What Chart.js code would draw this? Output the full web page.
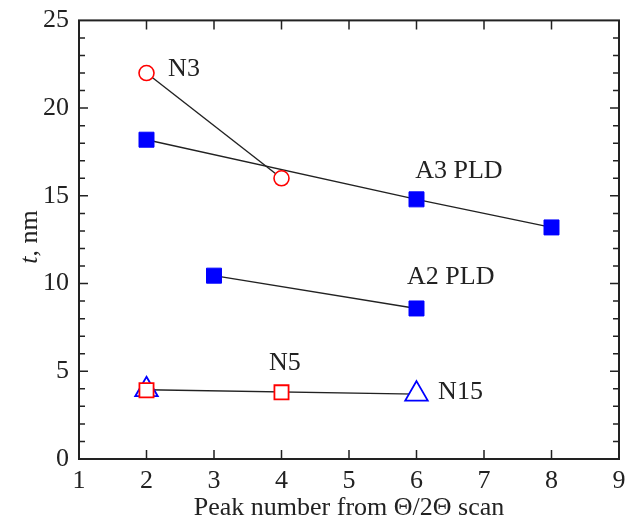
<!DOCTYPE html>
<html>
<head>
<meta charset="utf-8">
<script src="https://cdn.jsdelivr.net/npm/chart.js@4"></script>
<style>
html, body { margin: 0; padding: 0; background: #fff; }
</style>
</head>
<body>
<canvas id="chart" width="634" height="520"></canvas>
<script>
// measured film thickness t (nm) vs peak number
var n3_x = [2, 4];
var n3_t = [22.0, 16.0];
var a3_x = [2, 6, 8];
var a3_t = [18.2, 14.8, 13.2];
var a2_x = [3, 6];
var a2_t = [10.45, 8.58];
var n5_x = [2, 4];
var n5_t = [3.92, 3.8];
var n15_x = [2, 6];
var n15_t = [3.95, 3.7];

// sample labels written next to the points
var label_text = ["N3", "A3 PLD", "A2 PLD", "N5", "N15"];
var label_x = [2.32, 5.98, 5.86, 4.05, 6.32];
var label_t = [22.2, 16.4, 10.36, 5.45, 3.82];
var label_align = ["left", "left", "left", "center", "left"];

var x_title = "Peak number from \u0398/2\u0398 scan";
var ink = "#222";
var serif = "'Liberation Serif', 'Times New Roman', serif";

function pts(xs, ys) {
  return xs.map(function (x, i) { return { x: x, y: ys[i] }; });
}

var frame = {
  id: 'frame',
  afterDraw: function (chart) {
    var ctx = chart.ctx;
    var a = chart.chartArea;
    var xs = chart.scales.x;
    var ys = chart.scales.y;
    ctx.save();
    ctx.strokeStyle = ink;
    ctx.lineWidth = 2;
    ctx.strokeRect(a.left, a.top, a.right - a.left, a.bottom - a.top);

    ctx.lineWidth = 1.5;
    ctx.beginPath();
    for (var v = 2; v < 9; v++) {
      var px = xs.getPixelForValue(v);
      ctx.moveTo(px, a.bottom); ctx.lineTo(px, a.bottom - 9);
      ctx.moveTo(px, a.top); ctx.lineTo(px, a.top + 9);
    }
    for (var t = 1; t < 25; t++) {
      var py = ys.getPixelForValue(t);
      var len = (t % 5 === 0) ? 9 : 6;
      ctx.moveTo(a.left, py); ctx.lineTo(a.left + len, py);
      ctx.moveTo(a.right, py); ctx.lineTo(a.right - len, py);
    }
    ctx.stroke();

    // point labels
    ctx.fillStyle = ink;
    ctx.font = "26px " + serif;
    ctx.textBaseline = "middle";
    for (var i = 0; i < label_text.length; i++) {
      ctx.textAlign = label_align[i];
      ctx.fillText(label_text[i], xs.getPixelForValue(label_x[i]), ys.getPixelForValue(label_t[i]));
    }

    // x axis title
    ctx.textAlign = "center";
    ctx.textBaseline = "alphabetic";
    ctx.fillText(x_title, (a.left + a.right) / 2, 515);

    // y axis title, italic t
    ctx.translate(37, 237);
    ctx.rotate(-Math.PI / 2);
    ctx.textAlign = "left";
    ctx.font = "italic 26px " + serif;
    var w1 = ctx.measureText("t").width;
    ctx.font = "26px " + serif;
    var w2 = ctx.measureText(", nm").width;
    var x0 = -(w1 + w2) / 2;
    ctx.font = "italic 26px " + serif;
    ctx.fillText("t", x0, 0);
    ctx.font = "26px " + serif;
    ctx.fillText(", nm", x0 + w1, 0);
    ctx.restore();
  }
};

new Chart(document.getElementById("chart"), {
  type: 'scatter',
  data: {
    datasets: [
      {
        label: "N5",
        data: pts(n5_x, n5_t),
        showLine: false,
        pointStyle: 'rect',
        pointRadius: 10,
        pointBorderWidth: 1.8,
        pointBorderColor: "#ff0000",
        pointBackgroundColor: "#fff",
        order: 0
      },
      {
        label: "N15",
        data: pts(n15_x, n15_t),
        showLine: true,
        borderColor: ink,
        borderWidth: 1.4,
        pointStyle: 'triangle',
        pointRadius: 13,
        pointBorderWidth: 1.8,
        pointBorderColor: "#0000ff",
        pointBackgroundColor: "#fff",
        order: 1
      },
      {
        label: "N3",
        data: pts(n3_x, n3_t),
        showLine: true,
        borderColor: ink,
        borderWidth: 1.4,
        pointStyle: 'circle',
        pointRadius: 7.5,
        pointBorderWidth: 1.6,
        pointBorderColor: "#ff0000",
        pointBackgroundColor: "#fff",
        order: 2
      },
      {
        label: "A3 PLD",
        data: pts(a3_x, a3_t),
        showLine: true,
        borderColor: ink,
        borderWidth: 1.4,
        pointStyle: 'rect',
        pointRadius: 10.6,
        pointBorderWidth: 1,
        pointBorderColor: "#0000ff",
        pointBackgroundColor: "#0000ff",
        order: 3
      },
      {
        label: "A2 PLD",
        data: pts(a2_x, a2_t),
        showLine: true,
        borderColor: ink,
        borderWidth: 1.4,
        pointStyle: 'rect',
        pointRadius: 10.6,
        pointBorderWidth: 1,
        pointBorderColor: "#0000ff",
        pointBackgroundColor: "#0000ff",
        order: 4
      }
    ]
  },
  options: {
    responsive: false,
    animation: false,
    devicePixelRatio: 1,
    layout: { padding: { top: 19, right: 15, left: 0, bottom: 0 } },
    plugins: {
      legend: { display: false },
      tooltip: { enabled: false }
    },
    scales: {
      x: {
        type: 'linear',
        min: 1,
        max: 9,
        grid: { display: false, drawTicks: false },
        border: { display: false },
        ticks: { stepSize: 1, padding: 7, color: ink, font: { family: serif, size: 26 } },
        afterFit: function (s) { s.height = 61; }
      },
      y: {
        min: 0,
        max: 25,
        grid: { display: false, drawTicks: false },
        border: { display: false },
        ticks: { stepSize: 5, padding: 10, color: ink, font: { family: serif, size: 26, lineHeight: 0.8 } },
        afterFit: function (s) { s.width = 79; }
      }
    }
  },
  plugins: [frame]
});
</script>
</body>
</html>
